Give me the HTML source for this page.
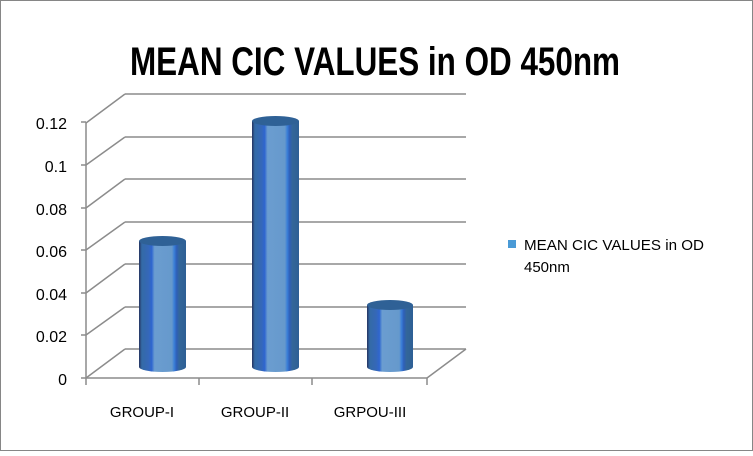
<!DOCTYPE html>
<html><head><style>html,body{margin:0;padding:0;background:#fff}</style></head><body>
<svg width="753" height="451" xmlns="http://www.w3.org/2000/svg" font-family="Liberation Sans, sans-serif">
<defs>
<linearGradient id="cyl" x1="0" x2="1" y1="0" y2="0">
<stop offset="0" stop-color="#25335f"/>
<stop offset="0.06" stop-color="#346aa6"/>
<stop offset="0.2" stop-color="#3568b8"/>
<stop offset="0.27" stop-color="#2f66d0"/>
<stop offset="0.33" stop-color="#6b9dd0"/>
<stop offset="0.7" stop-color="#6699cc"/>
<stop offset="0.75" stop-color="#3a7fd8"/>
<stop offset="0.8" stop-color="#2e5fb8"/>
<stop offset="0.86" stop-color="#336699"/>
<stop offset="1" stop-color="#2e5f95"/>
</linearGradient>
</defs>
<rect x="0.5" y="0.5" width="752" height="450" fill="#fff" stroke="#868686"/>
<text x="375" y="75" font-size="40" font-weight="bold" text-anchor="middle" textLength="490" lengthAdjust="spacingAndGlyphs">MEAN CIC VALUES in OD 450nm</text>
<g stroke="#8c8c8c" stroke-width="1.5" fill="none">
<path d="M125 94H466M125 137H466M125 179H466M125 222H466M125 264H466M125 307H466M125 349H466"/>
<path d="M86 123L125 94M86 165L125 137M86 208L125 179M86 250L125 222M86 293L125 264M86 335L125 307M86 378L125 349M466 349L427 378"/>
<path d="M86 122V378H427M81 122H86M81 165H86M81 208H86M81 250H86M81 293H86M81 335H86M81 378H86M86 378V385M199 378V385M312 378V385M427 378V385"/>
</g>
<g>
<rect x="139" y="241" width="47" height="126" fill="url(#cyl)"/>
<ellipse cx="162.5" cy="367" rx="23.5" ry="5" fill="url(#cyl)"/>
<ellipse cx="162.5" cy="241" rx="23.5" ry="5" fill="#2f6196"/>
<rect x="252" y="121" width="47" height="246" fill="url(#cyl)"/>
<ellipse cx="275.5" cy="367" rx="23.5" ry="5" fill="url(#cyl)"/>
<ellipse cx="275.5" cy="121" rx="23.5" ry="5" fill="#2f6196"/>
<rect x="367" y="305" width="46" height="62" fill="url(#cyl)"/>
<ellipse cx="390" cy="367" rx="23" ry="5" fill="url(#cyl)"/>
<ellipse cx="390" cy="305" rx="23" ry="5" fill="#2f6196"/>
</g>
<g font-size="16" fill="#000" text-anchor="end">
<text x="67" y="129">0.12</text><text x="67" y="172">0.1</text><text x="67" y="215">0.08</text>
<text x="67" y="257">0.06</text><text x="67" y="300">0.04</text><text x="67" y="342">0.02</text><text x="67" y="385">0</text>
</g>
<g font-size="15" text-anchor="middle">
<text x="142" y="417">GROUP-I</text><text x="255" y="417">GROUP-II</text><text x="370" y="417">GRPOU-III</text>
</g>
<rect x="508" y="240" width="8" height="8" fill="#4a9ad6"/>
<text x="524" y="250" font-size="15" textLength="180" lengthAdjust="spacingAndGlyphs">MEAN CIC VALUES in OD</text>
<text x="524" y="272" font-size="15">450nm</text>
</svg>
</body></html>
